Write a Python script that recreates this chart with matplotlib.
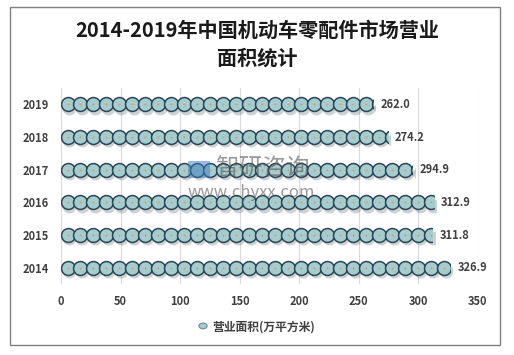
import numpy as np
import matplotlib
matplotlib.use("Agg")
import matplotlib.pyplot as plt
from matplotlib.patches import Rectangle

plt.rcParams['font.family'] = ['Noto Sans CJK SC', 'DejaVu Sans']

# data
years = ['2014', '2015', '2016', '2017', '2018', '2019']
area = [326.9, 311.8, 312.9, 294.9, 274.2, 262.0]
xticks = [0, 50, 100, 150, 200, 250, 300, 350]

fig = plt.figure(figsize=(5.14, 3.55), dpi=100)
ax = fig.add_axes([0.1187, 0.2, 0.811, 0.552])

# outer frame
fig.patches.append(Rectangle((10 / 514, 10 / 355), 490 / 514, 338 / 355,
                             transform=fig.transFigure, fill=False,
                             edgecolor='#808080', linewidth=1.0))

step = 10.9   # width of one circle in data units
for i, v in enumerate(area):
    n = int(np.ceil(v / step))
    xs = step / 2 + step * np.arange(n)
    ys = np.full(n, i)
    clip = Rectangle((0, i - 0.4), v, 0.9, transform=ax.transData)
    # shadow
    sh = ax.scatter(xs + 1.5, ys - 0.1, s=100, color='#6f7c80', alpha=0.35,
                    linewidths=0, zorder=2)
    sh.set_clip_path(Rectangle((0, i - 0.5), v + 2, 1.0, transform=ax.transData))
    c = ax.scatter(xs, ys, s=100, facecolor='#a5cdd0', edgecolor='#2c4656',
                   linewidths=1.1, zorder=3)
    c.set_clip_path(clip)
    d = ax.scatter(xs, ys, s=2, color='#e0955a', linewidths=0, zorder=4)
    d.set_clip_path(clip)
    ax.text(v + 6, i, f'{v:.1f}', va='center', ha='left', fontsize=8,
            fontweight='bold', color='#404040', zorder=5)

ax.set_xlim(0, 350)
ax.set_ylim(-0.5, 5.5)
ax.set_xticks(xticks)
ax.set_yticks(range(len(years)))
ax.set_yticklabels(years)
ax.grid(axis='x', color='#d9d9d9', linewidth=0.8)
ax.set_axisbelow(True)
for s in ax.spines.values():
    s.set_visible(False)
ax.tick_params(length=0, labelsize=8, colors='#404040', pad=8)
ax.tick_params(axis='y', pad=9)
for lab in ax.get_xticklabels() + ax.get_yticklabels():
    lab.set_fontweight('bold')

# title
fig.text(0.5, 0.915, '2014-2019年中国机动车零配件市场营业', ha='center', va='center',
         fontsize=14.5, fontweight='bold', color='#1a1a1a')
fig.text(0.5, 0.837, '面积统计', ha='center', va='center',
         fontsize=14.5, fontweight='bold', color='#1a1a1a')

# legend
fig.text(0.513, 0.08, '营业面积(万平方米)', ha='center', va='center',
         fontsize=8.5, fontweight='bold', color='#404040')
fig.patches.append(plt.Circle((0.395, 0.082), 0.008, transform=fig.transFigure,
                              facecolor='#a5cdd0', edgecolor='#6f8a95', linewidth=0.8))

# watermark
fig.patches.append(Rectangle((188 / 514, 1 - 178 / 355), 22 / 514, 17 / 355,
                             transform=fig.transFigure, facecolor='#3a78c0',
                             alpha=0.5, linewidth=0, zorder=10))
fig.text(215 / 514, 0.522, '智研咨询', ha='left', va='center', fontsize=17,
         color='#555555', alpha=0.6, zorder=10)
fig.text(188 / 514, 0.458, 'www.chyxx.com', ha='left', va='center', fontsize=12,
         color='#555555', alpha=0.6, zorder=10)

fig.savefig('out.png', dpi=100)
